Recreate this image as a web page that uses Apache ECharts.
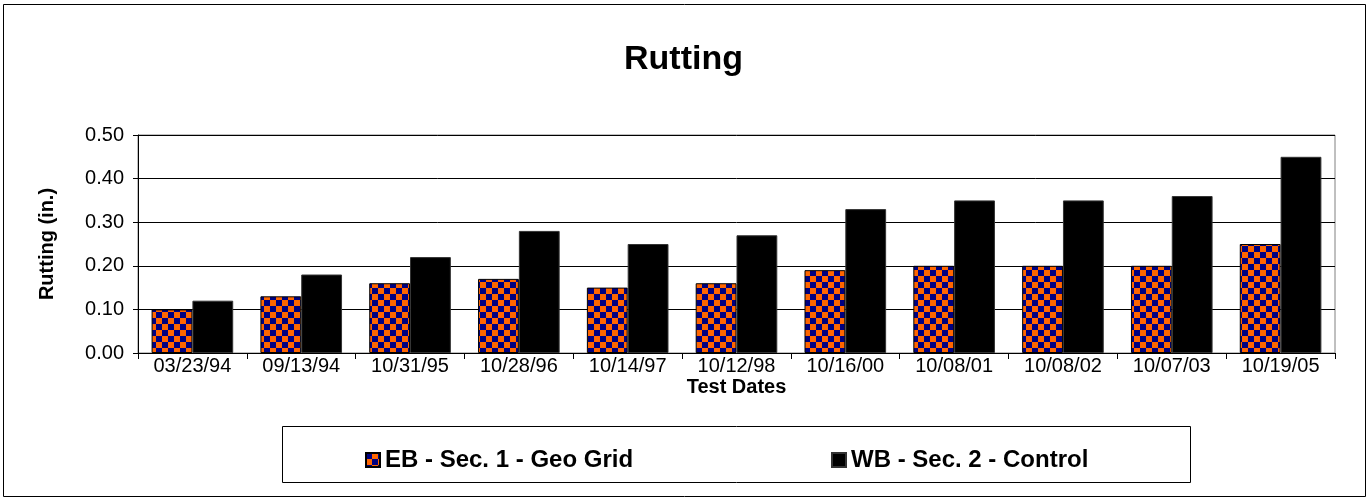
<!DOCTYPE html>
<html>
<head>
<meta charset="utf-8">
<script src="https://cdn.jsdelivr.net/npm/echarts@6/dist/echarts.min.js"></script>
<style>
html,body{margin:0;padding:0;background:#fff;}
#chart{width:1367px;height:499px;}
</style>
</head>
<body>
<div id="chart"></div>
<script>
const categories = ['03/23/94','09/13/94','10/31/95','10/28/96','10/14/97','10/12/98','10/16/00','10/08/01','10/08/02','10/07/03','10/19/05'];
const ebValues = [0.10,0.13,0.16,0.17,0.15,0.16,0.19,0.20,0.20,0.20,0.25];
const wbValues = [0.12,0.18,0.22,0.28,0.25,0.27,0.33,0.35,0.35,0.36,0.45];
const seriesNames = ['EB - Sec. 1 - Geo Grid','WB - Sec. 2 - Control'];
const chartTitle = 'Rutting';
const yAxisTitle = 'Rutting (in.)';
const xAxisTitle = 'Test Dates';

const FONT = '"Liberation Sans", Arial, sans-serif';

// checkerboard pattern
const pc = document.createElement('canvas');
pc.width = 12; pc.height = 12;
const px = pc.getContext('2d');
px.fillStyle = '#000080'; px.fillRect(0,0,12,12);
px.fillStyle = '#FF6600'; px.fillRect(6,0,6,6); px.fillRect(0,6,6,6);

const chart = echarts.init(document.getElementById('chart'), null, {renderer:'canvas'});
chart.setOption({
  animation: false,
  backgroundColor: '#fff',
  title: {
    text: chartTitle, left: 'center', top: 38,
    textStyle: {fontFamily: FONT, fontSize: 34, fontWeight: 'bold', color: '#000'}
  },
  grid: {left: 138, right: 32, top: 135, bottom: 146, show: true, borderColor: '#808080', borderWidth: 1},
  legend: [
    {data: [seriesNames[0]], left: 360, top: 443, icon: 'rect', itemWidth: 14, itemHeight: 14, itemGap: 0,
     textStyle: {fontFamily: FONT, fontSize: 24, fontWeight: 'bold', color: '#000'}},
    {data: [seriesNames[1]], left: 826, top: 443, icon: 'rect', itemWidth: 14, itemHeight: 14, itemGap: 0,
     textStyle: {fontFamily: FONT, fontSize: 24, fontWeight: 'bold', color: '#000'}}
  ],
  xAxis: {
    type: 'category', data: categories,
    name: xAxisTitle, nameLocation: 'middle', nameGap: 24,
    nameTextStyle: {fontFamily: FONT, fontSize: 20, fontWeight: 'bold', color: '#000'},
    axisLine: {show: true, lineStyle: {color: '#000', width: 1}},
    axisTick: {show: true, alignWithLabel: false, length: 6, lineStyle: {color: '#000'}},
    axisLabel: {fontFamily: FONT, fontSize: 20, color: '#000', margin: 3, interval: 0},
    splitLine: {show: false}
  },
  yAxis: {
    type: 'value', min: 0, max: 0.5, interval: 0.1,
    name: yAxisTitle, nameLocation: 'middle', nameGap: 81,
    nameTextStyle: {fontFamily: FONT, fontSize: 20, fontWeight: 'bold', color: '#000'},
    axisLine: {show: true, lineStyle: {color: '#000', width: 1}},
    axisTick: {show: true, length: 5, lineStyle: {color: '#000'}},
    axisLabel: {fontFamily: FONT, fontSize: 20, color: '#000', margin: 14, formatter: v => v.toFixed(2)},
    splitLine: {show: true, lineStyle: {color: '#000', width: 1}}
  },
  series: [
    {name: seriesNames[0], type: 'bar', data: ebValues, barGap: '0%', barCategoryGap: '25%',
     itemStyle: {color: {image: pc, repeat: 'repeat'}, borderColor: '#000', borderWidth: 1}},
    {name: seriesNames[1], type: 'bar', data: wbValues, barGap: '0%', barCategoryGap: '25%',
     itemStyle: {color: '#000', borderColor: '#333', borderWidth: 1}}
  ],
  graphic: [
    {type: 'rect', shape: {x: 3.5, y: 4.5, width: 1362, height: 492}, style: {fill: 'none', stroke: '#000', lineWidth: 1}, silent: true, z: -1},
    {type: 'rect', shape: {x: 282.5, y: 426.5, width: 908, height: 56}, style: {fill: 'none', stroke: '#000', lineWidth: 1}, silent: true, z: -1}
  ]
});
</script>
</body>
</html>
